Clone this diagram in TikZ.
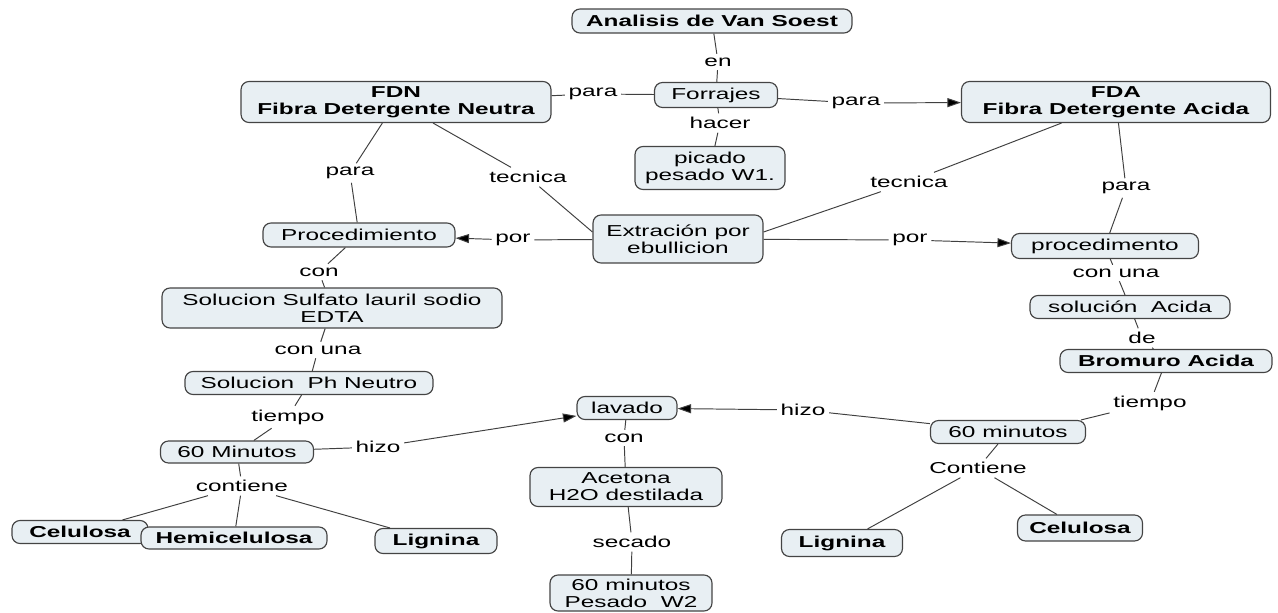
\documentclass[tikz,border=0pt]{standalone}
\usepackage{fontspec}
\setmainfont{Liberation Sans}[FakeStretch=1.54]
\usetikzlibrary{arrows.meta}
\definecolor{boxfill}{HTML}{E8EFF3}
\definecolor{boxline}{HTML}{444444}
\tikzset{
  concept/.style={draw=boxline, fill=boxfill, rounded corners=0.16cm, line width=0.65pt, inner sep=1pt, align=center},
  key/.style={concept, font=\fontsize{9}{9.8}\selectfont\bfseries},
  lbl/.style={inner sep=2pt},
  link/.style={draw=black!75, line width=0.55pt}
}
\begin{document}
\begin{tikzpicture}[x=0.02cm, y=-0.02cm, font=\fontsize{9}{9.8}\selectfont,
  >={Triangle[length=2.7mm,width=1.8mm]}]
\useasboundingbox (0,0) rectangle (1278,612);
% concepts
\node (vs) at (712,21) [key, minimum width=5.6cm, minimum height=0.48cm] {Analisis de Van Soest};
\node (forr) at (716,95) [concept, minimum width=2.46cm, minimum height=0.5cm] {Forrajes};
\node (picado) at (710,168) [concept, minimum width=3cm, minimum height=0.86cm] {picado\\pesado W1.};
\node (fdn) at (396,102) [key, minimum width=6.2cm, minimum height=0.82cm] {FDN\\Fibra Detergente Neutra};
\node (fda) at (1116,102) [key, minimum width=6.18cm, minimum height=0.82cm] {FDA\\Fibra Detergente Acida};
\node (ext) at (678,239) [concept, minimum width=3.4cm, minimum height=0.96cm] {Extración por\\ebullicion};
\node (proc) at (359,235) [concept, minimum width=3.84cm, minimum height=0.48cm] {Procedimiento};
\node (procr) at (1105,246) [concept, minimum width=3.74cm, minimum height=0.5cm] {procedimento};
\node (sulf) at (332,308) [concept, minimum width=6.8cm, minimum height=0.8cm] {Solucion Sulfato lauril sodio\\EDTA};
\node (ph) at (309,383) [concept, minimum width=4.96cm, minimum height=0.46cm] {Solucion~ Ph Neutro};
\node (min60) at (237,452) [concept, minimum width=3.06cm, minimum height=0.44cm] {60 Minutos};
\node (cel) at (80,532) [key, minimum width=2.72cm, minimum height=0.46cm] {Celulosa};
\node (hemi) at (234,538) [key, minimum width=3.72cm, minimum height=0.44cm] {Hemicelulosa};
\node (lig) at (436,541) [key, minimum width=2.44cm, minimum height=0.5cm] {Lignina};
\node (lavado) at (627,408) [concept, minimum width=2cm, minimum height=0.46cm] {lavado};
\node (aceton) at (626,487) [concept, minimum width=3.84cm, minimum height=0.78cm] {Acetona\\H2O destilada};
\node (pesado) at (631,593) [concept, minimum width=3.24cm, minimum height=0.72cm] {60 minutos\\Pesado~ W2};
\node (min60r) at (1008,432) [concept, minimum width=3.1cm, minimum height=0.46cm] {60 minutos};
\node (sol) at (1130,307) [concept, minimum width=4cm, minimum height=0.46cm] {solución~ Acida};
\node (brom) at (1166,361) [key, minimum width=4.24cm, minimum height=0.46cm] {Bromuro Acida};
\node (lignr) at (842,543) [key, minimum width=2.42cm, minimum height=0.54cm] {Lignina};
\node (celr) at (1080,528) [key, minimum width=2.5cm, minimum height=0.52cm] {Celulosa};
% linking phrases
\node (en) at (718,62) [lbl] {en};
\node (hacer) at (720,123) [lbl] {hacer};
\node (paraA) at (593,94) [lbl] {para};
\node (paraB) at (856,103) [lbl] {para};
\node (paraC) at (350,173) [lbl] {para};
\node (tecA) at (528,177) [lbl] {tecnica};
\node (tecB) at (909,182) [lbl] {tecnica};
\node (paraD) at (1126,188) [lbl] {para};
\node (porA) at (513,240) [lbl] {por};
\node (porB) at (910,240) [lbl] {por};
\node (conA) at (319,272) [lbl] {con};
\node (conunaA) at (318,350) [lbl] {con una};
\node (tiempoA) at (288,417) [lbl] {tiempo};
\node (hizoA) at (378,447) [lbl] {hizo};
\node (contA) at (242,486) [lbl] {contiene};
\node (conB) at (624,438) [lbl] {con};
\node (secado) at (632,542) [lbl] {secado};
\node (hizoB) at (803,410) [lbl] {hizo};
\node (tiempoB) at (1150,403) [lbl] {tiempo};
\node (deA) at (1142,338) [lbl] {de};
\node (conunaB) at (1116,273) [lbl] {con una};
\node (contB) at (978,468) [lbl] {Contiene};
% connectors
\draw[link]
  (vs) edge (en) (en) edge (forr)
  (forr) edge (hacer) (hacer) edge (picado)
  (fdn) edge (paraA) (paraA) edge (forr)
  (forr) edge (paraB) (paraB) edge[->] (fda)
  (fdn) edge (paraC) (paraC) edge (proc)
  (fdn) edge (tecA) (tecA) edge ([yshift=0.14cm]ext.west)
  (fda) edge (tecB) (tecB) edge ([yshift=0.14cm]ext.east)
  (fda) edge (paraD) (paraD) edge (procr)
  (ext) edge (porA) (porA) edge[->] (proc)
  (ext) edge (porB) (porB) edge[->] (procr)
  (proc) edge (conA) (conA) edge (sulf)
  (sulf) edge (conunaA) (conunaA) edge (ph)
  (ph) edge (tiempoA) (tiempoA) edge (min60)
  (min60) edge (hizoA) (hizoA) edge[->] (lavado)
  (min60) edge (contA)
  (contA) edge (cel) (contA) edge (hemi) (contA) edge (lig)
  (lavado) edge (conB) (conB) edge (aceton)
  (aceton) edge (secado) (secado) edge (pesado)
  (min60r) edge (hizoB) (hizoB) edge[->] (lavado)
  (procr) edge (conunaB) (conunaB) edge (sol)
  (sol) edge (deA) (deA) edge (brom)
  (brom) edge (tiempoB) (tiempoB) edge ([xshift=-0.1cm]min60r.north east)
  (min60r) edge (contB)
  (contB) edge (lignr) (contB) edge (celr)
  ;
\end{tikzpicture}
\end{document}
